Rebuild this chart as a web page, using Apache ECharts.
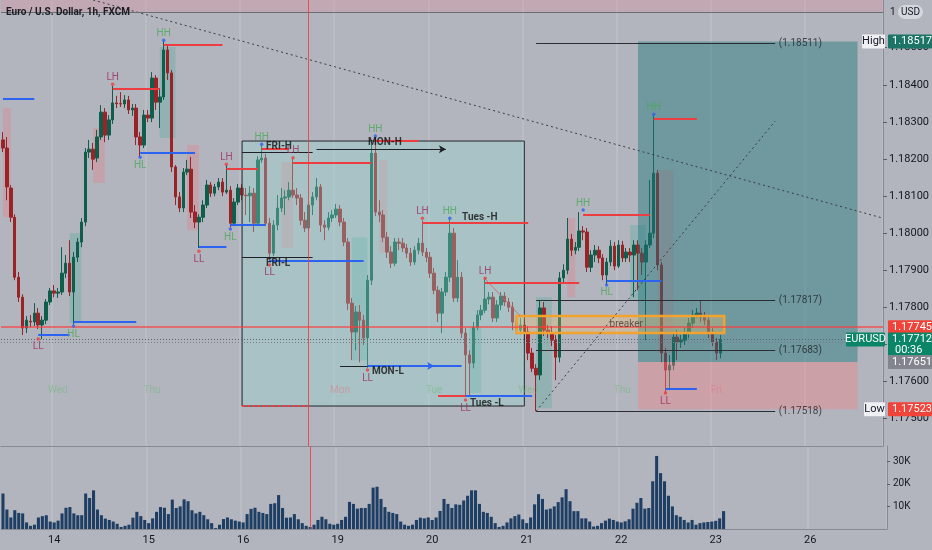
<!DOCTYPE html>
<html>
<head>
<meta charset="utf-8">
<script src="https://cdn.jsdelivr.net/npm/echarts@6.0.0/dist/echarts.min.js"></script>
<style>
html,body{margin:0;padding:0;background:#b2b5bd;}
#chart{width:932px;height:550px;}
</style>
</head>
<body>
<div id="chart"></div>
<script>
// ---------- DATA ----------
const dayList = ['13','14','15','16','19','20','21','22','23','26'];
const firstHour = 11;      // first bar on the 13th
const lastDayHours = 20;   // empty future bars on the 26th

const opens = [
1.18251,1.18229,1.18121,1.18042,1.17880,1.17826,1.17743,1.17761,1.17759,1.17783,
1.17751,1.17764,1.17813,1.17843,1.17837,1.17840,1.17891,1.17918,1.17840,1.17934,
1.17975,1.18029,1.18218,1.18226,1.18202,1.18259,1.18326,1.18264,1.18305,1.18351,
1.18349,1.18348,1.18359,1.18332,1.18337,1.18259,1.18237,1.18318,1.18310,1.18418,
1.18353,1.18367,1.18494,1.18432,1.18178,1.18097,1.18067,1.18164,1.18172,1.18056,
1.18029,1.18042,1.18075,1.18129,1.18107,1.18124,1.18137,1.18110,1.18115,1.18026,
1.18083,1.18121,1.18102,1.18100,1.18107,1.18026,1.18197,1.18202,1.18026,1.17945,
1.18021,1.18067,1.18094,1.18097,1.18115,1.18102,1.18094,1.18034,1.18013,1.18075,
1.18097,1.18124,1.18021,1.18015,1.18040,1.18048,1.18064,1.18029,1.17975,1.17810,
1.17732,1.17786,1.17764,1.17716,1.17872,1.18215,1.18056,1.18048,1.17988,1.17948,
1.17918,1.17975,1.17972,1.17959,1.17945,1.17921,1.17953,1.17972,1.17948,1.17934,
1.17891,1.17845,1.17783,1.17840,1.17880,1.17999,1.17824,1.17880,1.17729,1.17670,
1.17648,1.17745,1.17778,1.17791,1.17821,1.17826,1.17770,1.17805,1.17829,1.17813,
1.17799,1.17759,1.17737,1.17751,1.17732,1.17675,1.17634,1.17616,1.17797,1.17737,
1.17729,1.17710,1.17664,1.17878,1.17899,1.17983,1.17953,1.17961,1.18005,1.18002,
1.17907,1.17940,1.17953,1.17932,1.17886,1.17921,1.17964,1.17910,1.17967,1.17932,
1.17948,1.17940,1.17967,1.17945,1.17921,1.17967,1.17999,1.18161,1.17913,1.17675,
1.17629,1.17642,1.17718,1.17705,1.17710,1.17729,1.17756,1.17778,1.17783,1.17772,
1.17764,1.17729,1.17705,1.17675];

const closes = [
1.18229,1.18124,1.18042,1.17880,1.17826,1.17743,1.17764,1.17759,1.17783,1.17751,
1.17764,1.17813,1.17843,1.17837,1.17840,1.17891,1.17918,1.17840,1.17934,1.17975,
1.18029,1.18218,1.18226,1.18199,1.18259,1.18326,1.18264,1.18305,1.18351,1.18349,
1.18348,1.18359,1.18332,1.18337,1.18259,1.18237,1.18318,1.18310,1.18418,1.18353,
1.18367,1.18494,1.18432,1.18178,1.18097,1.18067,1.18164,1.18172,1.18056,1.18029,
1.18042,1.18075,1.18129,1.18107,1.18124,1.18137,1.18110,1.18115,1.18026,1.18083,
1.18121,1.18102,1.18100,1.18107,1.18026,1.18197,1.18202,1.18026,1.17945,1.18021,
1.18067,1.18094,1.18097,1.18115,1.18102,1.18094,1.18034,1.18013,1.18075,1.18097,
1.18124,1.18021,1.18015,1.18040,1.18048,1.18064,1.18029,1.17975,1.17810,1.17732,
1.17786,1.17764,1.17716,1.17872,1.18215,1.18056,1.18048,1.17988,1.17948,1.17918,
1.17975,1.17972,1.17959,1.17945,1.17921,1.17953,1.17972,1.17948,1.17934,1.17891,
1.17845,1.17783,1.17840,1.17880,1.17999,1.17824,1.17880,1.17729,1.17670,1.17648,
1.17745,1.17778,1.17791,1.17821,1.17826,1.17770,1.17805,1.17829,1.17813,1.17799,
1.17759,1.17737,1.17751,1.17732,1.17675,1.17634,1.17616,1.17797,1.17737,1.17729,
1.17710,1.17664,1.17878,1.17899,1.17983,1.17953,1.17961,1.18005,1.18002,1.17907,
1.17940,1.17953,1.17932,1.17886,1.17921,1.17964,1.17910,1.17967,1.17932,1.17948,
1.17940,1.17967,1.17945,1.17921,1.17967,1.17999,1.18161,1.17913,1.17675,1.17629,
1.17642,1.17718,1.17705,1.17710,1.17729,1.17756,1.17778,1.17783,1.17772,1.17764,
1.17729,1.17705,1.17675,1.17712];

const highs = [
1.18272,1.18259,1.18129,1.18050,1.17894,1.17834,1.17775,1.17778,1.17810,1.17797,
1.17775,1.17821,1.17851,1.17859,1.17851,1.17961,1.17940,1.17980,1.17948,1.17986,
1.18040,1.18229,1.18251,1.18243,1.18278,1.18345,1.18337,1.18318,1.18397,1.18370,
1.18380,1.18372,1.18370,1.18348,1.18348,1.18272,1.18332,1.18332,1.18434,1.18426,
1.18391,1.18518,1.18505,1.18440,1.18183,1.18110,1.18175,1.18197,1.18205,1.18075,
1.18050,1.18088,1.18143,1.18137,1.18132,1.18148,1.18148,1.18183,1.18126,1.18094,
1.18132,1.18132,1.18121,1.18126,1.18121,1.18207,1.18237,1.18213,1.18040,1.18034,
1.18102,1.18121,1.18115,1.18137,1.18202,1.18121,1.18105,1.18056,1.18083,1.18110,
1.18148,1.18132,1.18034,1.18056,1.18061,1.18078,1.18075,1.18040,1.17986,1.17824,
1.17802,1.17805,1.17778,1.17886,1.18251,1.18259,1.18088,1.18061,1.18002,1.17964,
1.17986,1.17986,1.17986,1.17970,1.17959,1.17964,1.17986,1.18034,1.17959,1.17948,
1.17905,1.17856,1.17851,1.17894,1.18037,1.18013,1.17926,1.17894,1.17743,1.17683,
1.17759,1.17791,1.17805,1.17875,1.17840,1.17840,1.17818,1.17840,1.17840,1.17824,
1.17813,1.17775,1.17770,1.17764,1.17748,1.17689,1.17645,1.17818,1.17813,1.17751,
1.17748,1.17724,1.17894,1.17915,1.18040,1.17997,1.17975,1.18056,1.18018,1.18013,
1.17953,1.17967,1.17964,1.17942,1.17932,1.17980,1.17975,1.17980,1.17978,1.17959,
1.17959,1.17980,1.17980,1.17959,1.17980,1.18143,1.18316,1.18170,1.17921,1.17689,
1.17670,1.17732,1.17737,1.17724,1.17743,1.17770,1.17791,1.17797,1.17818,1.17786,
1.17775,1.17743,1.17716,1.17724];

const lows = [
1.18218,1.18088,1.18029,1.17872,1.17813,1.17724,1.17729,1.17745,1.17748,1.17740,
1.17713,1.17753,1.17805,1.17826,1.17824,1.17832,1.17878,1.17829,1.17753,1.17921,
1.17961,1.18018,1.18202,1.18170,1.18191,1.18251,1.18245,1.18251,1.18294,1.18337,
1.18340,1.18337,1.18321,1.18316,1.18237,1.18205,1.18229,1.18299,1.18299,1.18332,
1.18283,1.18359,1.18413,1.18164,1.18075,1.18056,1.18056,1.18156,1.18040,1.18013,
1.17959,1.18029,1.18067,1.18097,1.18099,1.18115,1.18099,1.18105,1.18015,1.18018,
1.18075,1.18088,1.18048,1.18029,1.18002,1.18018,1.18189,1.18018,1.17921,1.17937,
1.18007,1.18056,1.18048,1.18088,1.18094,1.18075,1.18021,1.18002,1.18007,1.18048,
1.18088,1.18002,1.17980,1.18007,1.18029,1.18040,1.18018,1.17964,1.17791,1.17656,
1.17683,1.17650,1.17697,1.17634,1.17859,1.18045,1.18029,1.17975,1.17932,1.17905,
1.17910,1.17953,1.17948,1.17932,1.17910,1.17913,1.17942,1.17937,1.17921,1.17878,
1.17834,1.17759,1.17729,1.17829,1.17867,1.17813,1.17813,1.17716,1.17556,1.17561,
1.17634,1.17737,1.17764,1.17783,1.17807,1.17759,1.17759,1.17791,1.17802,1.17786,
1.17737,1.17726,1.17726,1.17710,1.17656,1.17624,1.17518,1.17602,1.17721,1.17716,
1.17694,1.17602,1.17650,1.17867,1.17888,1.17937,1.17942,1.17951,1.17980,1.17894,
1.17894,1.17921,1.17918,1.17872,1.17861,1.17910,1.17899,1.17905,1.17921,1.17921,
1.17921,1.17826,1.17845,1.17886,1.17710,1.17959,1.17986,1.17899,1.17650,1.17567,
1.17575,1.17629,1.17656,1.17689,1.17697,1.17716,1.17743,1.17770,1.17759,1.17751,
1.17716,1.17694,1.17656,1.17661];

const volumes = [
15700,8600,5100,8300,7100,6900,2900,1400,1900,5100,5700,6100,3300,2900,3700,6900,9400,9700,6900,6100,6100,
15700,13700,17100,8600,6100,4600,4000,3300,2300,900,
1400,1900,5000,7600,5700,4000,2600,4700,7600,9700,
9400,6600,13000,9300,10000,13100,12300,8300,6900,7600,
6100,4300,2600,400,1900,4400,5100,4300,3700,
3300,2900,6600,8900,9400,7600,7100,6600,11100,11400,
15000,9300,5000,5100,6600,4300,2600,1400,900,1900,
4000,5400,4300,2300,1900,2300,4000,5400,12000,11100,
9000,9300,9300,11100,18300,18700,13300,9700,7600,7100,
6600,3300,1900,1400,1900,4000,5000,4700,5100,4000,
5100,8000,13300,11100,9300,10900,10700,12600,14700,17100,
17100,11100,7600,7100,5400,2600,900,1400,2900,4700,
5700,6400,4300,2600,5100,10900,15400,13300,8600,9000,
10000,11900,14000,17600,12300,7900,7900,4700,4700,3300,
1100,1400,2600,3700,4600,4000,3300,2900,3400,4300,
9000,11600,13700,9000,9300,21100,32300,24700,21100,14700,
10000,6100,5400,4000,2900,4000,1900,2600,2900,3100,
3300,3600,4700,7900];

const priceTicks = [1.175,1.176,1.177,1.178,1.179,1.180,1.181,1.182,1.183,1.184,1.185];
const volumeTicks = [10000,20000,30000];

// swing structure: [label, bar index, level price, level line end bar]
const swings = [
 ['LH',28,1.18388,40], ['HH',41,1.18507,56], ['HL',35,1.18215,49],
 ['LL',9,1.17724,17],  ['HL',18,1.17759,34], ['LL',50,1.17961,57],
 ['LH',57,1.18172,65], ['HL',58,1.18021,67], ['HH',66,1.18226,73],
 ['LH',74,1.18189,94], ['LL',68,1.17924,92], ['HH',95,1.18248,106],
 ['LL',93,1.17640,117],['LH',107,1.18026,134],['HH',114,1.18026,114],
 ['LH',123,1.17864,147],['LL',118,1.17559,135],['HH',148,1.18048,165],
 ['HL',154,1.17870,168],['HH',166,1.18307,177],['LL',169,1.17578,177]
];
const extraLevels = [['low',0,8,1.18361],['high',111,118,1.17559]];
const sessionLevels = [[61,79,1.18218],[61,79,1.17934],[86,93,1.17640]];
const sessionArrows = [['black',80,113,1.18226],['blue',93,110,1.17640]];
const sessionLabels = [['FRI-H',67,1.18234],['FRI-L',67,1.17918],['MON-H',93,1.18243],
                       ['MON-L',94,1.17624],['Tues -H',117,1.18042],['Tues -L',119,1.17540]];
const sessionBox = [61,133,1.18248,1.17532];
const sessionBoxDash = [61,78,1.17532];
const longTool = [162,218,1.18517,1.17651,1.17523];
const toolLevels = [1.18511,1.17817,1.17683,1.17518];
const toolLevelRange = [136,197];
const breakerZone = [131,184,1.17775,1.17729];
const breakerLabelBar = 159;
const diagonals = [[23,1.18629,224,1.18041],[136,1.17518,197,1.18302]];
const connector = [123,1.17875,132,1.17775];
const alertPrice = 1.17745;
const lastPrice = 1.17712;
const bidPrice = 1.17703;
const highPrice = 1.18517;
const lowPrice = 1.17523;
const topBandPrice = 1.18597;
const redMarkerBar = 78;
const countdown = '00:36';
const dowLabels = [['Wed',14],['Thu',38],['Mon',86],['Tue',110],['Wed',134],['Thu',158],['Fri',182]];
const dowPrice = 1.17575;
const pvsraZones = [
 ['down',0,2,1.18337,1.18042],['down',23,26,1.18283,1.18135],['up',40,44,1.18502,1.18256],
 ['up',17,20,1.17999,1.17756],['down',47,50,1.18237,1.18007],['down',71,74,1.18191,1.17959],
 ['down',96,98,1.18197,1.17945],['up',89,93,1.17988,1.17656],['up',119,122,1.17745,1.17567],
 ['down',144,146,1.18040,1.17826],['up',160,164,1.18021,1.17818],['down',167,171,1.18170,1.17675],
 ['up',136,140,1.17826,1.17526]
];

// ---------- BUILD ----------
const categories = [];
dayList.forEach((d, di) => {
  const start = di === 0 ? firstHour : 0;
  const end = di === dayList.length - 1 ? lastDayHours : 24;
  for (let h = start; h < end; h++) categories.push(d + ' ' + String(h).padStart(2, '0') + ':00');
});
const cat = k => categories[k];
const candleData = opens.map((o, i) => [o, closes[i], lows[i], highs[i]]);
const isDayStart = (idx, val) => / 00:00$/.test(val);

const FONT = 'Roboto, "Noto Sans", sans-serif';
const RED = '#ee3d40', BLUE = '#2c63f0', BLACK = '#1d2026';

const lineData = [];
swings.forEach(s => {
  if (s[3] === s[1]) return;
  lineData.push([{coord:[cat(s[1]), s[2]], lineStyle:{color: s[0][1] === 'H' ? RED : BLUE, width:2, type:'solid'}},
                 {coord:[cat(s[3]), s[2]]}]);
});
extraLevels.forEach(e => lineData.push([{coord:[cat(e[1]), e[3]], lineStyle:{color: e[0]==='high'?RED:BLUE, width:2, type:'solid'}}, {coord:[cat(e[2]), e[3]]}]));
sessionLevels.forEach(e => lineData.push([{coord:[cat(e[0]), e[2]], lineStyle:{color:BLACK, width:1, type:'solid'}}, {coord:[cat(e[1]), e[2]]}]));
sessionArrows.forEach(e => lineData.push([{coord:[cat(e[1]), e[3]], symbol:'none', lineStyle:{color: e[0]==='blue'?BLUE:BLACK, width: e[0]==='blue'?2:1, type:'solid'}},
                                          {coord:[cat(e[2]), e[3]], symbol:'arrow', symbolSize:[6,7]}]));
toolLevels.forEach(v => lineData.push([{coord:[cat(toolLevelRange[0]), v], lineStyle:{color:'#2a2d33', width:1, type:'solid'}}, {coord:[cat(toolLevelRange[1]), v]}]));
diagonals.forEach(d => lineData.push([{coord:[cat(d[0]), d[1]], lineStyle:{color:'#3a3d44', width:1, type:[2,3]}}, {coord:[cat(d[2]), d[3]]}]));
lineData.push([{coord:[cat(connector[0]), connector[1]], lineStyle:{color:'rgba(230,80,80,0.7)', width:1, type:'solid'}}, {coord:[cat(connector[2]), connector[3]]}]);
lineData.push([{coord:[cat(sessionBoxDash[0]), sessionBoxDash[2]], lineStyle:{color:RED, width:2, type:[3,2]}}, {coord:[cat(sessionBoxDash[1]), sessionBoxDash[2]]}]);
lineData.push({yAxis: alertPrice, lineStyle:{color:'#ff3b3b', width:1.6, type:'solid', opacity:0.8}});
lineData.push({yAxis: lastPrice, lineStyle:{color:'#5f636c', width:1, type:[1,2]}});
lineData.push({yAxis: bidPrice, lineStyle:{color:'#7a7e87', width:1, type:[1,2]}});
lineData.push({yAxis: topBandPrice, lineStyle:{color:'#6b6e76', width:1, type:'solid'}});
lineData.push({xAxis: cat(redMarkerBar), lineStyle:{color:'rgba(238,60,70,0.85)', width:1, type:'solid'}});

const overlayAreas = [
  [{coord:[cat(sessionBox[0]), sessionBox[2]], itemStyle:{color:'rgba(150,222,215,0.33)', borderColor:'#23262c', borderWidth:1}},
   {coord:[cat(sessionBox[1]), sessionBox[3]]}],
  [{coord:[cat(longTool[0]), longTool[2]], itemStyle:{color:'rgba(30,118,122,0.45)'}}, {coord:[cat(longTool[1]), longTool[3]]}],
  [{coord:[cat(longTool[0]), longTool[3]], itemStyle:{color:'rgba(240,130,135,0.42)'}}, {coord:[cat(longTool[1]), longTool[4]]}],
  [{coord:[cat(breakerZone[0]), breakerZone[2]], itemStyle:{color:'rgba(255,196,100,0.28)', borderColor:'#f2a22e', borderWidth:2.5}},
   {coord:[cat(breakerZone[1]), breakerZone[3]]}],
  [{yAxis: topBandPrice, itemStyle:{color:'rgba(228,140,155,0.32)'}}, {yAxis: 1.18629}]
];

const zoneAreas = pvsraZones.map(z => [
  {coord:[cat(z[1]), z[3]], itemStyle:{color: z[0]==='up' ? 'rgba(60,170,150,0.28)' : 'rgba(235,120,130,0.30)'}},
  {coord:[cat(z[2]), z[4]]}]);

const dotData = swings.map(s => ({
  value:[cat(s[1]), s[2]],
  symbolOffset:[0, s[0][1]==='H' ? -5 : 4],
  itemStyle:{color: s[0][0]==='H' ? BLUE : RED}
}));

const textData = [];
swings.forEach(s => textData.push({
  value:[cat(s[1]), s[2]],
  label:{show:true, position:'inside', offset:[0, s[0][1]==='H' ? -12 : 12], formatter:s[0],
         color: s[0][0]==='H' ? '#4aa95a' : '#9b2a63', fontSize:10, fontFamily:FONT}
}));
sessionLabels.forEach(s => textData.push({
  value:[cat(s[1]), s[2]],
  label:{show:true, position:'right', distance:0, formatter:s[0], color:'#111', fontWeight:'bold', fontSize:10, fontFamily:FONT}
}));
toolLevels.forEach(v => textData.push({
  value:[cat(toolLevelRange[1]), v],
  label:{show:true, position:'right', distance:3, formatter:'(' + v.toFixed(5) + ')', color:'#1d2026', fontSize:10, fontFamily:FONT}
}));
textData.push({value:[cat(breakerLabelBar), (breakerZone[2]+breakerZone[3])/2],
  label:{show:true, position:'inside', formatter:'breaker', color:'#4a3a30', fontSize:10, fontFamily:FONT}});
dowLabels.forEach(d => textData.push({
  value:[cat(d[1]), dowPrice],
  label:{show:true, position:'inside', formatter:d[0], fontSize:10, fontFamily:FONT,
         color: (d[0]==='Mon' || d[0]==='Fri') ? 'rgba(232,110,125,0.6)' : 'rgba(100,185,110,0.6)'}
}));

const chart = echarts.init(document.getElementById('chart'), null, {renderer:'canvas'});
const option = {
  backgroundColor:'#b2b5bd',
  animation:false,
  textStyle:{fontFamily:FONT},
  grid:[
    {left:1, right:45, top:0, height:446},
    {left:1, right:45, top:446, height:83}
  ],
  xAxis:[
    {type:'category', data:categories, gridIndex:0, boundaryGap:true,
     axisLine:{show:true, lineStyle:{color:'#878a93'}}, axisTick:{show:false}, axisLabel:{show:false},
     splitLine:{show:true, interval:isDayStart, lineStyle:{color:'rgba(255,255,255,0.16)', width:1.5}}},
    {type:'category', data:categories, gridIndex:1, boundaryGap:true,
     axisLine:{show:true, lineStyle:{color:'#878a93'}}, axisTick:{show:false},
     axisLabel:{show:true, interval:isDayStart, formatter:v => v.split(' ')[0], color:'#131722', fontSize:11, margin:6},
     splitLine:{show:true, interval:isDayStart, lineStyle:{color:'rgba(255,255,255,0.16)', width:1.5}}}
  ],
  yAxis:[
    {type:'value', gridIndex:0, position:'right', min:1.17424, max:1.18629,
     axisLine:{show:true, lineStyle:{color:'#878a93'}},
     axisTick:{show:true, length:4, customValues:priceTicks, lineStyle:{color:'#5a5d66'}},
     axisLabel:{show:true, customValues:priceTicks, formatter:v => v.toFixed(5), color:'#131722', fontSize:11, margin:6},
     splitLine:{show:false}},
    {type:'value', gridIndex:1, position:'right', min:0, max:36700,
     axisLine:{show:true, lineStyle:{color:'#878a93'}},
     axisTick:{show:true, length:3, customValues:volumeTicks, lineStyle:{color:'#5a5d66'}},
     axisLabel:{show:true, customValues:volumeTicks, formatter:v => (v/1000) + 'K', color:'#131722', fontSize:10, margin:6},
     splitLine:{show:false}}
  ],
  series:[
    {name:'zones', type:'scatter', xAxisIndex:0, yAxisIndex:0, data:[], silent:true,
     markArea:{z:1, silent:true, data:zoneAreas}},
    {name:'EURUSD', type:'candlestick', xAxisIndex:0, yAxisIndex:0, data:candleData, z:2, barWidth:3, silent:true,
     itemStyle:{color:'#0f5e4b', color0:'#9a2328', borderColor:'#0f5e4b', borderColor0:'#9a2328', borderWidth:1}},
    {name:'overlay', type:'scatter', xAxisIndex:0, yAxisIndex:0, data:[], silent:true,
     markArea:{z:3, silent:true, data:overlayAreas}},
    {name:'lines', type:'scatter', xAxisIndex:0, yAxisIndex:0, data:[], silent:true,
     markLine:{z:5, silent:true, precision:5, symbol:['none','none'], label:{show:false}, data:lineData}},
    {name:'dots', type:'scatter', xAxisIndex:0, yAxisIndex:0, z:6, silent:true, symbol:'circle', symbolSize:3.5, data:dotData},
    {name:'texts', type:'scatter', xAxisIndex:0, yAxisIndex:0, z:7, silent:true, symbolSize:1,
     itemStyle:{color:'rgba(0,0,0,0)'}, data:textData},
    {name:'Volume', type:'bar', xAxisIndex:1, yAxisIndex:1, data:volumes, barWidth:'78%', silent:true,
     itemStyle:{color:'#1f3e64'},
     markLine:{silent:true, precision:5, symbol:['none','none'], label:{show:false},
       data:[{xAxis:cat(redMarkerBar), lineStyle:{color:'rgba(238,60,70,0.85)', width:1, type:'solid'}}]}}
  ]
};
chart.setOption(option);

// ---------- price tags (positioned through the y scale) ----------
const yPix = p => chart.convertToPixel({yAxisIndex:0}, p);
const AX = 887;
const gfx = [];
function txt(x, y, text, fill, font, align) {
  return {type:'text', x, y, z:201, silent:true,
          style:{text, fill, font, align:align||'left', textAlign:align||'left', verticalAlign:'middle', textVerticalAlign:'middle'}};
}
function tag(p, text, fill, h) {
  const y = yPix(p);
  gfx.push({type:'rect', z:200, silent:true, shape:{x:AX+1, y:y-7, width:44, height:h||14, r:1}, style:{fill}});
  gfx.push(txt(AX+5, y, text, '#fff', '11px ' + FONT));
  return y;
}
function sideBox(y, text, x, w, fill, color) {
  gfx.push({type:'rect', z:200, silent:true, shape:{x, y:y-7, width:w, height:14, r:1}, style:{fill}});
  gfx.push(txt(x + w/2, y, text, color, '11px ' + FONT, 'center'));
}
let y;
y = tag(highPrice, highPrice.toFixed(5), '#1b7466'); sideBox(y, 'High', 862, 23, '#eef0f4', '#131722');
tag(alertPrice, alertPrice.toFixed(5), '#f0433a');
y = tag(lastPrice, lastPrice.toFixed(5), '#0b8567', 24);
gfx.push(txt(AX+8, y+11, countdown, '#fff', '11px ' + FONT));
sideBox(y, 'EURUSD', 846, 39, '#0b8567', '#ffffff');
tag(longTool[3], longTool[3].toFixed(5), '#82858d');
y = tag(lowPrice, lowPrice.toFixed(5), '#f0433a'); sideBox(y, 'Low', 864, 21, '#eef0f4', '#131722');
gfx.push(txt(6, 12, 'Euro / U.S. Dollar, 1h, FXCM', '#1a1d24', 'bold 10px ' + FONT));
gfx.push(txt(890, 12, '1', '#131722', '10px ' + FONT));
gfx.push({type:'rect', z:200, silent:true, shape:{x:898, y:5, width:25, height:14, r:7}, style:{fill:'rgba(240,242,246,0.55)'}});
gfx.push(txt(910.5, 12, 'USD', '#131722', '10px ' + FONT, 'center'));
chart.setOption({graphic:gfx});
</script>
</body>
</html>
